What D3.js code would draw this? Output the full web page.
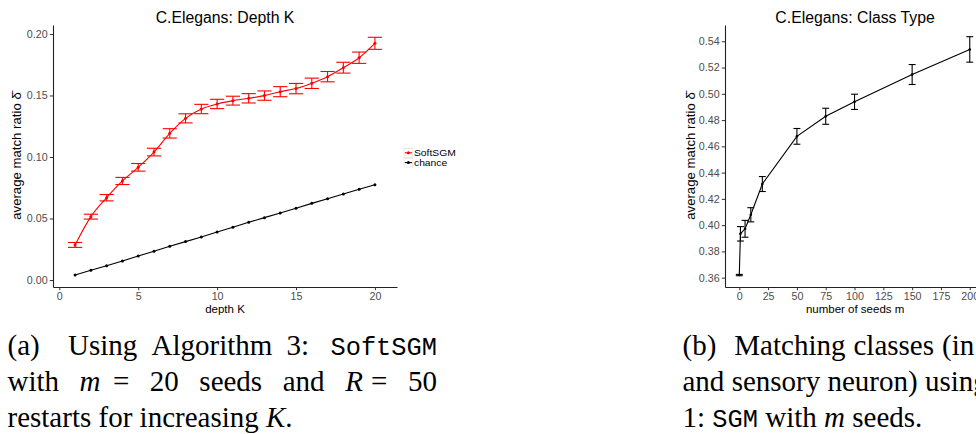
<!DOCTYPE html>
<html><head><meta charset="utf-8">
<script src="https://cdn.jsdelivr.net/npm/d3@7"></script>
<style>html,body{margin:0;padding:0;background:#fff;overflow:hidden}</style>
</head><body>
<svg id="c" width="976" height="434" style="display:block"></svg>
<script>
// ---------------- data ----------------
const depthK = [1,2,3,4,5,6,7,8,9,10,11,12,13,14,15,16,17,18,19,20];
const softSGM = [0.0285,0.0515,0.0669,0.0805,0.0916,0.1040,0.1192,0.1314,0.1390,0.1431,
                 0.1458,0.1477,0.1499,0.1531,0.1556,0.1599,0.1653,0.1726,0.1807,0.1924];
const softSGMErr = [0.0020,0.0020,0.0026,0.0029,0.0031,0.0031,0.0038,0.0037,0.0038,0.0038,
                    0.0036,0.0038,0.0038,0.0041,0.0042,0.0042,0.0042,0.0044,0.0046,0.0049];
const chance = [0.0041,0.0079,0.0116,0.0154,0.0195,0.0233,0.0274,0.0312,0.0350,0.0390,
                0.0428,0.0469,0.0507,0.0545,0.0583,0.0623,0.0661,0.0699,0.0737,0.0775];
const depthXTicks = [0,5,10,15,20];
const depthYTicks = [0.00,0.05,0.10,0.15,0.20];
const legendNames = ["SoftSGM","chance"];

const seedsM = [0,1,5,10,20,50,75,100,150,200];
const classType = [0.3620,0.3934,0.3972,0.4079,0.4313,0.4676,0.4829,0.4939,0.5147,0.5338];
const classTypeErr = [0.0005,0.0055,0.0064,0.0054,0.0057,0.0060,0.0061,0.0058,0.0076,0.0097];
const seedsXTicks = [0,25,50,75,100,125,150,175,200];
const classYTicks = [0.36,0.38,0.40,0.42,0.44,0.46,0.48,0.50,0.52,0.54];

// ---------------- setup ----------------
const sans = "'Liberation Sans', Arial, Helvetica, sans-serif";
const serif = "'Liberation Serif', 'Times New Roman', serif";
const mono = "'Liberation Mono', 'DejaVu Sans Mono', monospace";
const svg = d3.select("#c");
const TICK_FS = 10.7, AXT_FS = 11.5, YAXT_FS = 13.2, TITLE_FS = 15.8, LEG_FS = 8.6;

function drawAxes(g, x, y, xt, yt) {
  const gx = g.append("g").attr("transform", `translate(0,${y.range()[0]})`)
    .call(d3.axisBottom(x).tickValues(xt).tickFormat(d3.format("d")).tickSize(3.2).tickSizeOuter(0).tickPadding(2.2));
  const gy = g.append("g").attr("transform", `translate(${x.range()[0]},0)`)
    .call(d3.axisLeft(y).tickValues(yt).tickFormat(d3.format(".2f")).tickSize(3.2).tickSizeOuter(0).tickPadding(2.2));
  [gx, gy].forEach(a => {
    a.select(".domain").attr("stroke", "#222").attr("stroke-width", 1.1);
    a.selectAll(".tick line").attr("stroke", "#333").attr("stroke-width", 1);
    a.selectAll(".tick text").attr("fill", "#4d4d4d").attr("font-size", TICK_FS).attr("font-family", sans);
  });
}
function titles(g, x, y, title, xlab, ylabX) {
  const cx = (x.range()[0] + x.range()[1]) / 2;
  const cy = (y.range()[0] + y.range()[1]) / 2;
  g.append("text").attr("x", cx).attr("y", 22.8).attr("text-anchor", "middle")
    .attr("font-family", sans).attr("font-size", TITLE_FS).attr("fill", "#000").text(title);
  g.append("text").attr("x", cx).attr("y", 312.6).attr("text-anchor", "middle")
    .attr("font-family", sans).attr("font-size", AXT_FS).attr("fill", "#000").text(xlab);
  const yt = g.append("text").attr("transform", `translate(${ylabX},${cy}) rotate(-90)`)
    .attr("text-anchor", "middle").attr("font-family", sans).attr("font-size", YAXT_FS).attr("fill", "#000");
  yt.append("tspan").text("average match ratio ");
  yt.append("tspan").text("\u03B4\u0304");
}
function errorBars(g, x, y, xs, vs, es, hw, color, sw) {
  xs.forEach((k, i) => {
    const lo = y(vs[i] - es[i]), hi = y(vs[i] + es[i]);
    g.append("line").attr("x1", x(k)).attr("x2", x(k)).attr("y1", lo).attr("y2", hi)
      .attr("stroke", color).attr("stroke-width", sw);
    [lo, hi].forEach(yy => g.append("line").attr("x1", x(k - hw)).attr("x2", x(k + hw))
      .attr("y1", yy).attr("y2", yy).attr("stroke", color).attr("stroke-width", sw));
  });
}
function series(g, x, y, xs, vs, color, r, sw, curve) {
  const pts = xs.map((k, i) => [k, vs[i]]);
  g.append("path").datum(pts)
    .attr("d", d3.line().x(d => x(d[0])).y(d => y(d[1])).curve(curve))
    .attr("fill", "none").attr("stroke", color).attr("stroke-width", sw);
  g.selectAll(null).data(pts).enter().append("circle")
    .attr("cx", d => x(d[0])).attr("cy", d => y(d[1])).attr("r", r).attr("fill", color);
}

// ---------------- left chart ----------------
const gL = svg.append("g");
const xL = d3.scaleLinear().domain([-0.4, 21.4]).range([53, 397]);
const yL = d3.scaleLinear().domain([-0.0057, 0.2073]).range([287, 25]);
drawAxes(gL, xL, yL, depthXTicks, depthYTicks);
titles(gL, xL, yL, "C.Elegans: Depth K", "depth K", 21);
series(gL, xL, yL, depthK, chance, "#000", 1.5, 1.1, d3.curveLinear);
errorBars(gL, xL, yL, depthK, softSGM, softSGMErr, 0.45, "#ff0000", 1.1);
series(gL, xL, yL, depthK, softSGM, "#ff0000", 1.5, 1.1, d3.curveMonotoneX);

// legend
const lg = gL.append("g").attr("transform", "translate(404,148)");
const legColors = ["#ff0000", "#000"];
legendNames.forEach((n, i) => {
  const row = lg.append("g").attr("transform", `translate(0,${i * 9.8})`);
  row.append("rect").attr("x", 0).attr("y", 0.4).attr("width", 8.8).attr("height", 8.8)
    .attr("fill", "#fff").attr("stroke", "#d9d9d9").attr("stroke-width", 0.6);
  row.append("line").attr("x1", 0.8).attr("x2", 8).attr("y1", 4.8).attr("y2", 4.8)
    .attr("stroke", legColors[i]).attr("stroke-width", 1.1);
  row.append("circle").attr("cx", 4.4).attr("cy", 4.8).attr("r", 1.5).attr("fill", legColors[i]);
  row.append("text").attr("x", 10).attr("y", 4.8).attr("dy", "0.36em")
    .attr("font-family", sans).attr("font-size", LEG_FS).attr("fill", "#000")
    .attr("transform", "translate(10,0) scale(1.2,1) translate(-10,0)").text(n);
});

// ---------------- right chart ----------------
const gR = svg.append("g");
const xR = d3.scaleLinear().domain([-12.4, 213.4]).range([725, 985.2]);
const yR = d3.scaleLinear().domain([0.3529, 0.5524]).range([287, 25]);
drawAxes(gR, xR, yR, seedsXTicks, classYTicks);
titles(gR, xR, yR, "C.Elegans: Class Type", "number of seeds m", 695);
errorBars(gR, xR, yR, seedsM, classType, classTypeErr, 3, "#000", 1.1);
series(gR, xR, yR, seedsM, classType, "#000", 1.3, 1.1, d3.curveLinear);

// ---------------- captions ----------------
const CAP_FS = 29;
function makeWord(g, segs) {
  const t = g.append("text").attr("font-family", serif).attr("font-size", CAP_FS).attr("fill", "#000");
  segs.forEach(([s, st]) => {
    const ts = t.append("tspan").text(s);
    if (st === "it") ts.attr("font-style", "italic");
    if (st === "tt") ts.attr("font-family", mono).attr("font-size", CAP_FS * 0.875);
  });
  return t;
}
function captionLine(g, x0, y, words, opt) {
  const ts = words.map(w => makeWord(g, w.map(s => Array.isArray(s) ? s : [s, "rm"])));
  const ws = ts.map(t => t.node().getComputedTextLength());
  const total = d3.sum(ws);
  let gaps;
  if (opt.width) {
    const wts = opt.weights || words.slice(1).map(() => 1);
    const unit = (opt.width - total) / d3.sum(wts);
    gaps = wts.map(w => w * unit);
  } else {
    gaps = opt.gaps || words.slice(1).map(() => CAP_FS * 0.25);
  }
  let x = x0;
  ts.forEach((t, i) => { t.attr("x", x).attr("y", y); x += ws[i] + (gaps[i] || 0); });
}
const capG = svg.append("g");
const capBase = [355, 391, 426.5];
captionLine(capG, 7.5, capBase[0], [["(a)"], ["Using"], ["Algorithm"], ["3:"], [["SoftSGM", "tt"]]],
  { width: 429.5, weights: [2, 1, 1, 1.5] });
captionLine(capG, 7.5, capBase[1], [["with"], [["m", "it"]], ["="], ["20"], ["seeds"], ["and"], [["R", "it"]], ["="], ["50"]],
  { width: 429.5, weights: [1, 0.6, 1, 1, 1, 1, 0.4, 1] });
captionLine(capG, 7.5, capBase[2], [["restarts"], ["for"], ["increasing"], [["K", "it"], [".", "rm"]]], {});
captionLine(capG, 682.5, capBase[0], [["(b)"], ["Matching"], ["classes"], ["(in"]], { gaps: [18, 8, 8] });
captionLine(capG, 682.5, capBase[1], [["and"], ["sensory"], ["neuron)"], ["using"]], {});
captionLine(capG, 682.5, capBase[2], [["1:"], [["SGM", "tt"]], ["with"], [["m", "it"]], ["seeds."]], {});
</script>
</body></html>
